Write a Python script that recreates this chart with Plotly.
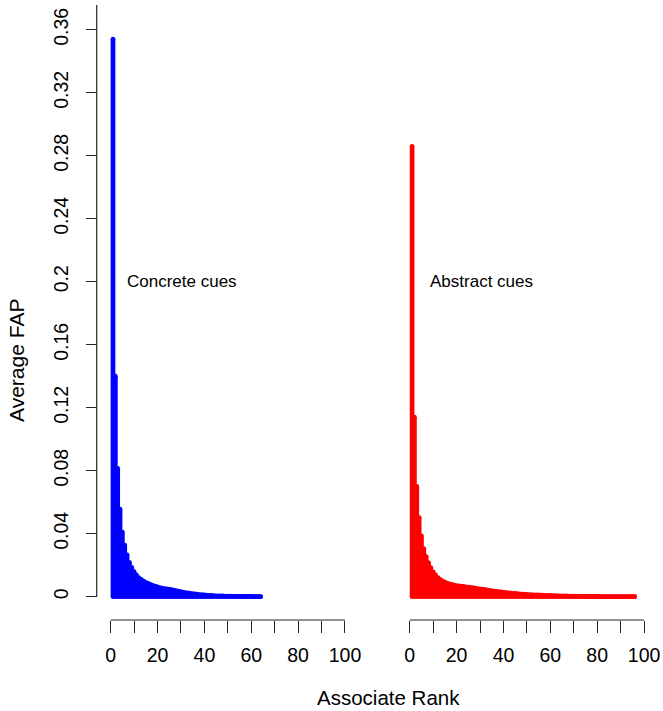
import plotly.graph_objects as go

# ---- data ----
concrete_fap = [0.354, 0.140, 0.0815, 0.0556, 0.0410, 0.0328, 0.0265, 0.0218, 0.0186, 0.0160,
                0.0138, 0.0122, 0.0110, 0.0100, 0.0091, 0.0084, 0.0078, 0.0072, 0.0067, 0.0062,
                0.0058, 0.0055, 0.0052, 0.0050, 0.0048, 0.0045, 0.0042, 0.0038, 0.0035, 0.0032,
                0.0029, 0.0026, 0.0024, 0.0022, 0.0020, 0.0018, 0.0016, 0.0014, 0.0013, 0.0012,
                0.0010, 0.0009, 0.0008, 0.0007, 0.0006, 0.0006, 0.0005, 0.0005, 0.0004, 0.0004,
                0.0004, 0.0003, 0.0003, 0.0003, 0.0003, 0.0002, 0.0002, 0.0002, 0.0002, 0.0002,
                0.0001, 0.0001, 0.0001, 0.0001]
abstract_fap = [0.286, 0.114, 0.0700, 0.0503, 0.0387, 0.0306, 0.0255, 0.0217, 0.0185, 0.0158,
                0.0138, 0.0122, 0.0110, 0.0100, 0.0093, 0.0087, 0.0082, 0.0078, 0.0074, 0.0071,
                0.0069, 0.0067, 0.0065, 0.0063, 0.0061, 0.0059, 0.0057, 0.0055, 0.0052, 0.0050,
                0.0048, 0.0046, 0.0044, 0.0041, 0.0038, 0.0036, 0.0034, 0.0032, 0.0030, 0.0028,
                0.0027, 0.0025, 0.0024, 0.0022, 0.0021, 0.0020, 0.0018, 0.0017, 0.0016, 0.0015,
                0.0014, 0.0013, 0.0012, 0.0012, 0.0011, 0.0010, 0.0010, 0.0009, 0.0008, 0.0008,
                0.0007, 0.0007, 0.0006, 0.0006, 0.0005, 0.0005, 0.0005, 0.0004, 0.0004, 0.0004,
                0.0003, 0.0003, 0.0003, 0.0003, 0.0002, 0.0002, 0.0002, 0.0002, 0.0002, 0.0002,
                0.0002, 0.0001, 0.0001, 0.0001, 0.0001, 0.0001, 0.0001, 0.0001, 0.0001, 0.0001,
                0.0001, 0.0001, 0.0001, 0.0001, 0.0001, 0.0001]
y_ticks = [0, 0.04, 0.08, 0.12, 0.16, 0.2, 0.24, 0.28, 0.32, 0.36]
y_tick_labels = ["0", "0.04", "0.08", "0.12", "0.16", "0.2", "0.24", "0.28", "0.32", "0.36"]
x_ticks = [0, 10, 20, 30, 40, 50, 60, 70, 80, 90, 100]
x_tick_labels = ["0", "", "20", "", "40", "", "60", "", "80", "", "100"]
panel_labels = ["Concrete cues", "Abstract cues"]

W, H = 663, 711
FONT = "Liberation Sans, Arial, Helvetica, sans-serif"
AX = "#262626"
LW = 4.7


def px(v):
    return v / W


def py(v):
    return 1 - v / H


def spikes(vals):
    xs, ys = [], []
    for i, v in enumerate(vals, start=1):
        xs += [i, i, None]
        ys += [0, v, None]
    return xs, ys


fig = go.Figure()
for vals, color, xa in [(concrete_fap, "#0000FF", "x"), (abstract_fap, "#FF0000", "x2")]:
    xs, ys = spikes(vals)
    fig.add_trace(go.Scatter(x=xs, y=ys, mode="lines", xaxis=xa, yaxis="y",
                             line=dict(color=color, width=LW), hoverinfo="skip",
                             showlegend=False, connectgaps=False))
    ranks = list(range(1, len(vals) + 1))
    fig.add_trace(go.Scatter(x=ranks + ranks, y=list(vals) + [0] * len(vals),
                             mode="markers", xaxis=xa, yaxis="y",
                             marker=dict(color=color, size=LW, line=dict(width=0)),
                             hoverinfo="skip", showlegend=False))

xcommon = dict(range=[-4.2553, 105.957], tickvals=x_ticks, ticktext=x_tick_labels,
               ticks="outside", ticklen=12, tickwidth=1.2, tickcolor=AX,
               showline=False, showgrid=False, zeroline=False,
               anchor="free", position=py(620),
               tickfont=dict(family=FONT, size=19.5, color="#000"),
               ticklabelstandoff=6)

fig.update_layout(
    width=W, height=H,
    margin=dict(l=0, r=0, t=0, b=0),
    paper_bgcolor="white", plot_bgcolor="white",
    xaxis=dict(domain=[px(101), px(360)], **xcommon),
    xaxis2=dict(domain=[px(401), px(660)], **xcommon),
    yaxis=dict(domain=[py(606), py(2)], range=[-0.005905, 0.37759],
               tickvals=y_ticks, ticktext=y_tick_labels, tickangle=-90,
               ticks="outside", ticklen=11, tickwidth=1.2, tickcolor=AX,
               showline=False, showgrid=False, zeroline=False,
               anchor="free", position=px(97),
               tickfont=dict(family=FONT, size=19.5, color="#000"),
               ticklabelstandoff=10),
    font=dict(family=FONT, color="#000"),
)

# axis lines (R style: spanning the tick range)
fig.add_shape(type="line", xref="paper", yref="y", x0=px(97), x1=px(97), y0=0, y1=0.37568,
              line=dict(color=AX, width=1.2))
for xa in ["x", "x2"]:
    fig.add_shape(type="line", xref=xa, yref="paper", x0=x_ticks[0], x1=x_ticks[-1],
                  y0=py(620), y1=py(620), line=dict(color=AX, width=1.2))

# panel labels
fig.add_annotation(x=6.3, y=0.2, xref="x", yref="y", text=panel_labels[0], showarrow=False,
                   xanchor="left", yanchor="middle", font=dict(family=FONT, size=17, color="#000"))
fig.add_annotation(x=7.6, y=0.2, xref="x2", yref="y", text=panel_labels[1], showarrow=False,
                   xanchor="left", yanchor="middle", font=dict(family=FONT, size=17, color="#000"))

# axis titles
fig.add_annotation(x=px(16), y=py(360), xref="paper", yref="paper", text="Average FAP",
                   showarrow=False, textangle=-90, xanchor="center", yanchor="middle",
                   font=dict(family=FONT, size=21, color="#000"))
fig.add_annotation(x=px(390), y=py(697), xref="paper", yref="paper", text="Associate Rank",
                   showarrow=False, xanchor="center", yanchor="middle",
                   font=dict(family=FONT, size=20.5, color="#000"))

fig.write_html("out.html", config={"displayModeBar": False},
               post_script="document.body.style.margin='0';document.body.style.overflow='hidden';")
